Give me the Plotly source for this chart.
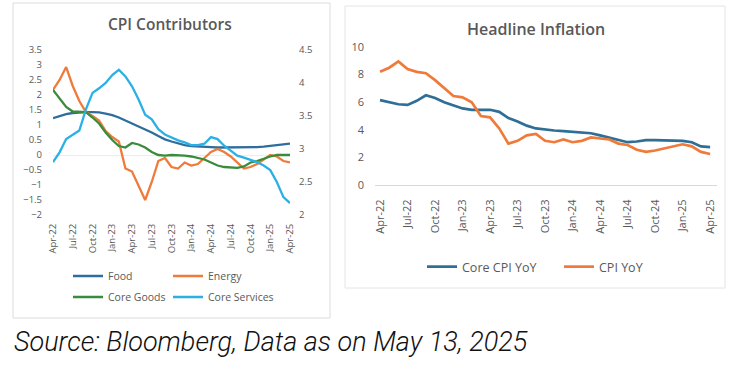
import plotly.graph_objects as go

W, H = 733, 368

months = ["Apr-22", "May-22", "Jun-22", "Jul-22", "Aug-22", "Sep-22", "Oct-22", "Nov-22", "Dec-22",
          "Jan-23", "Feb-23", "Mar-23", "Apr-23", "May-23", "Jun-23", "Jul-23", "Aug-23", "Sep-23",
          "Oct-23", "Nov-23", "Dec-23", "Jan-24", "Feb-24", "Mar-24", "Apr-24", "May-24", "Jun-24",
          "Jul-24", "Aug-24", "Sep-24", "Oct-24", "Nov-24", "Dec-24", "Jan-25", "Feb-25", "Mar-25",
          "Apr-25"]
tick_labels = ["Apr-22", "Jul-22", "Oct-22", "Jan-23", "Apr-23", "Jul-23", "Oct-23", "Jan-24",
               "Apr-24", "Jul-24", "Oct-24", "Jan-25", "Apr-25"]

# CPI contributors (left axis: Food, Energy, Core Goods; right axis: Core Services)
food = [1.23, 1.30, 1.36, 1.40, 1.42, 1.43, 1.43, 1.42, 1.38, 1.33, 1.25, 1.15, 1.07, 0.95, 0.85,
        0.75, 0.63, 0.52, 0.45, 0.38, 0.33, 0.30, 0.28, 0.27, 0.26, 0.25, 0.25, 0.25, 0.25, 0.25,
        0.25, 0.26, 0.28, 0.30, 0.33, 0.36, 0.38]
energy = [2.17, 2.50, 2.93, 2.30, 1.80, 1.43, 1.30, 1.15, 0.80, 0.60, 0.45, -0.45, -0.55, -1.00,
          -1.50, -0.90, -0.20, -0.10, -0.40, -0.45, -0.25, -0.35, -0.30, -0.10, 0.10, 0.20, 0.10,
          -0.05, -0.25, -0.45, -0.40, -0.30, -0.15, 0.00, -0.05, -0.20, -0.25]
core_goods = [2.17, 1.90, 1.60, 1.45, 1.45, 1.43, 1.25, 1.05, 0.75, 0.50, 0.30, 0.25, 0.40, 0.35,
              0.25, 0.10, 0.00, -0.02, 0.00, 0.00, -0.02, -0.05, -0.10, -0.15, -0.25, -0.35, -0.40,
              -0.42, -0.43, -0.38, -0.25, -0.20, -0.12, -0.05, 0.00, 0.00, 0.00]
core_services = [2.80, 2.95, 3.15, 3.22, 3.28, 3.60, 3.85, 3.92, 4.00, 4.12, 4.20, 4.10, 3.95, 3.75,
                 3.52, 3.45, 3.30, 3.22, 3.17, 3.13, 3.10, 3.06, 3.06, 3.08, 3.18, 3.15, 3.05, 2.97,
                 2.90, 2.87, 2.84, 2.80, 2.75, 2.68, 2.50, 2.27, 2.18]

# Headline inflation
core_cpi_yoy = [6.15, 6.00, 5.85, 5.80, 6.10, 6.50, 6.30, 6.00, 5.75, 5.55, 5.45, 5.45, 5.45, 5.30,
                4.85, 4.60, 4.30, 4.10, 4.00, 3.95, 3.90, 3.85, 3.80, 3.75, 3.60, 3.45, 3.30, 3.10,
                3.15, 3.25, 3.25, 3.25, 3.22, 3.20, 3.10, 2.80, 2.75]
cpi_yoy = [8.20, 8.50, 8.95, 8.40, 8.20, 8.10, 7.60, 7.00, 6.45, 6.35, 6.00, 5.00, 4.90, 4.10, 3.00,
           3.20, 3.60, 3.70, 3.20, 3.10, 3.30, 3.10, 3.20, 3.45, 3.40, 3.30, 3.00, 2.90, 2.55, 2.40,
           2.50, 2.65, 2.85, 2.95, 2.80, 2.40, 2.25]

C_FOOD = "#2F6E9C"
C_ENERGY = "#F07A3A"
C_GOODS = "#3A8C3C"
C_SERV = "#2BB0E6"
C_CORE = "#2F6E96"
C_CPI = "#F07A3A"
TXT = "#595959"
FONT = "Open Sans"


def fx(px):
    return px / W


def fy(py):
    return 1 - py / H


fig = go.Figure()

fig.add_trace(go.Scatter(x=months, y=food, name="Food", mode="lines",
                         line=dict(color=C_FOOD, width=2.3), xaxis="x", yaxis="y", legend="legend"))
fig.add_trace(go.Scatter(x=months, y=energy, name="Energy", mode="lines",
                         line=dict(color=C_ENERGY, width=2.3), xaxis="x", yaxis="y", legend="legend2"))
fig.add_trace(go.Scatter(x=months, y=core_goods, name="Core Goods", mode="lines",
                         line=dict(color=C_GOODS, width=2.3), xaxis="x", yaxis="y", legend="legend3"))
fig.add_trace(go.Scatter(x=months, y=core_services, name="Core Services", mode="lines",
                         line=dict(color=C_SERV, width=2.3), xaxis="x", yaxis="y2", legend="legend4"))

fig.add_trace(go.Scatter(x=months, y=core_cpi_yoy, name="Core CPI YoY", mode="lines",
                         line=dict(color=C_CORE, width=2.7), xaxis="x2", yaxis="y3", legend="legend5"))
fig.add_trace(go.Scatter(x=months, y=cpi_yoy, name="CPI YoY", mode="lines",
                         line=dict(color=C_CPI, width=2.7), xaxis="x2", yaxis="y3", legend="legend6"))

tickfont_small = dict(family=FONT, size=9.5, color=TXT)
tickfont_big = dict(family=FONT, size=11, color=TXT)


def leg(xpx, ypx, size):
    return dict(x=fx(xpx), y=fy(ypx), xanchor="left", yanchor="middle", orientation="h",
                font=dict(family=FONT, size=size, color=TXT),
                bgcolor="rgba(0,0,0,0)", itemwidth=30)


fig.update_layout(
    width=W, height=H,
    margin=dict(l=0, r=0, t=0, b=0, autoexpand=False),
    paper_bgcolor="white", plot_bgcolor="white",
    font=dict(family=FONT, color=TXT),
    xaxis=dict(domain=[fx(53), fx(290)], type="category", range=[0, 36], automargin=False,
               tickmode="array", tickvals=tick_labels, ticktext=tick_labels,
               tickangle=-90, tickfont=tickfont_small, showgrid=False, zeroline=False,
               showline=False, ticks="", ticklabelstandoff=6, anchor="y"),
    yaxis=dict(domain=[fy(215), fy(50)], range=[-2, 3.5], dtick=0.5, tickfont=tickfont_small,
               showgrid=False, zeroline=True, zerolinecolor="#ECECEC", zerolinewidth=1,
               automargin=False, ticks="", ticklabelstandoff=10, anchor="x"),
    yaxis2=dict(overlaying="y", side="right", range=[2, 4.5], dtick=0.5, tickfont=tickfont_small,
                automargin=False, showgrid=False, zeroline=False, ticks="",
                ticklabelstandoff=8, anchor="x"),
    xaxis2=dict(domain=[fx(375), fx(717)], type="category", range=[-0.55, 36.75],
                automargin=False, tickmode="array", tickvals=tick_labels, ticktext=tick_labels,
                tickangle=-90, tickfont=tickfont_big, showgrid=False, zeroline=False,
                showline=True, linecolor="#D9D9D9", linewidth=1, ticks="",
                ticklabelstandoff=9, anchor="y3"),
    yaxis3=dict(domain=[fy(185), fy(47)], range=[0, 10], dtick=2, tickfont=tickfont_big,
                automargin=False, showgrid=False, zeroline=False, ticks="",
                ticklabelstandoff=10, anchor="x2"),
    legend=leg(68, 276, 10.5),
    legend2=leg(168, 276, 10.5),
    legend3=leg(68, 297, 10.5),
    legend4=leg(168, 297, 10.5),
    legend5=leg(422, 267, 12.5),
    legend6=leg(559, 267, 12.5),
    showlegend=True,
)

fig.update_layout(shapes=[
    dict(type="rect", xref="paper", yref="paper", x0=fx(13), x1=fx(330), y0=fy(318), y1=fy(3),
         line=dict(color="#DCDCDC", width=1), layer="below"),
    dict(type="rect", xref="paper", yref="paper", x0=fx(345), x1=fx(725), y0=fy(288), y1=fy(6),
         line=dict(color="#E4E4E4", width=1), layer="below"),
])

fig.update_layout(annotations=[
    dict(text="CPI Contributors", xref="paper", yref="paper", x=fx(170), y=fy(24),
         xanchor="center", yanchor="middle", showarrow=False,
         font=dict(family=FONT, size=15.5, weight=600, color=TXT)),
    dict(text="Headline Inflation", xref="paper", yref="paper", x=fx(536), y=fy(29),
         xanchor="center", yanchor="middle", showarrow=False,
         font=dict(family=FONT, size=16, weight=600, color=TXT)),
    dict(text="<i>Source: Bloomberg, Data as on May 13, 2025</i>", xref="paper", yref="paper",
         x=fx(12), y=fy(342), xanchor="left", yanchor="middle", showarrow=False,
         font=dict(family="Roboto", size=27, weight=300, color="#111111")),
])

fig.write_html("out.html", config={"displayModeBar": False},
               post_script="document.body.style.margin='0';")
